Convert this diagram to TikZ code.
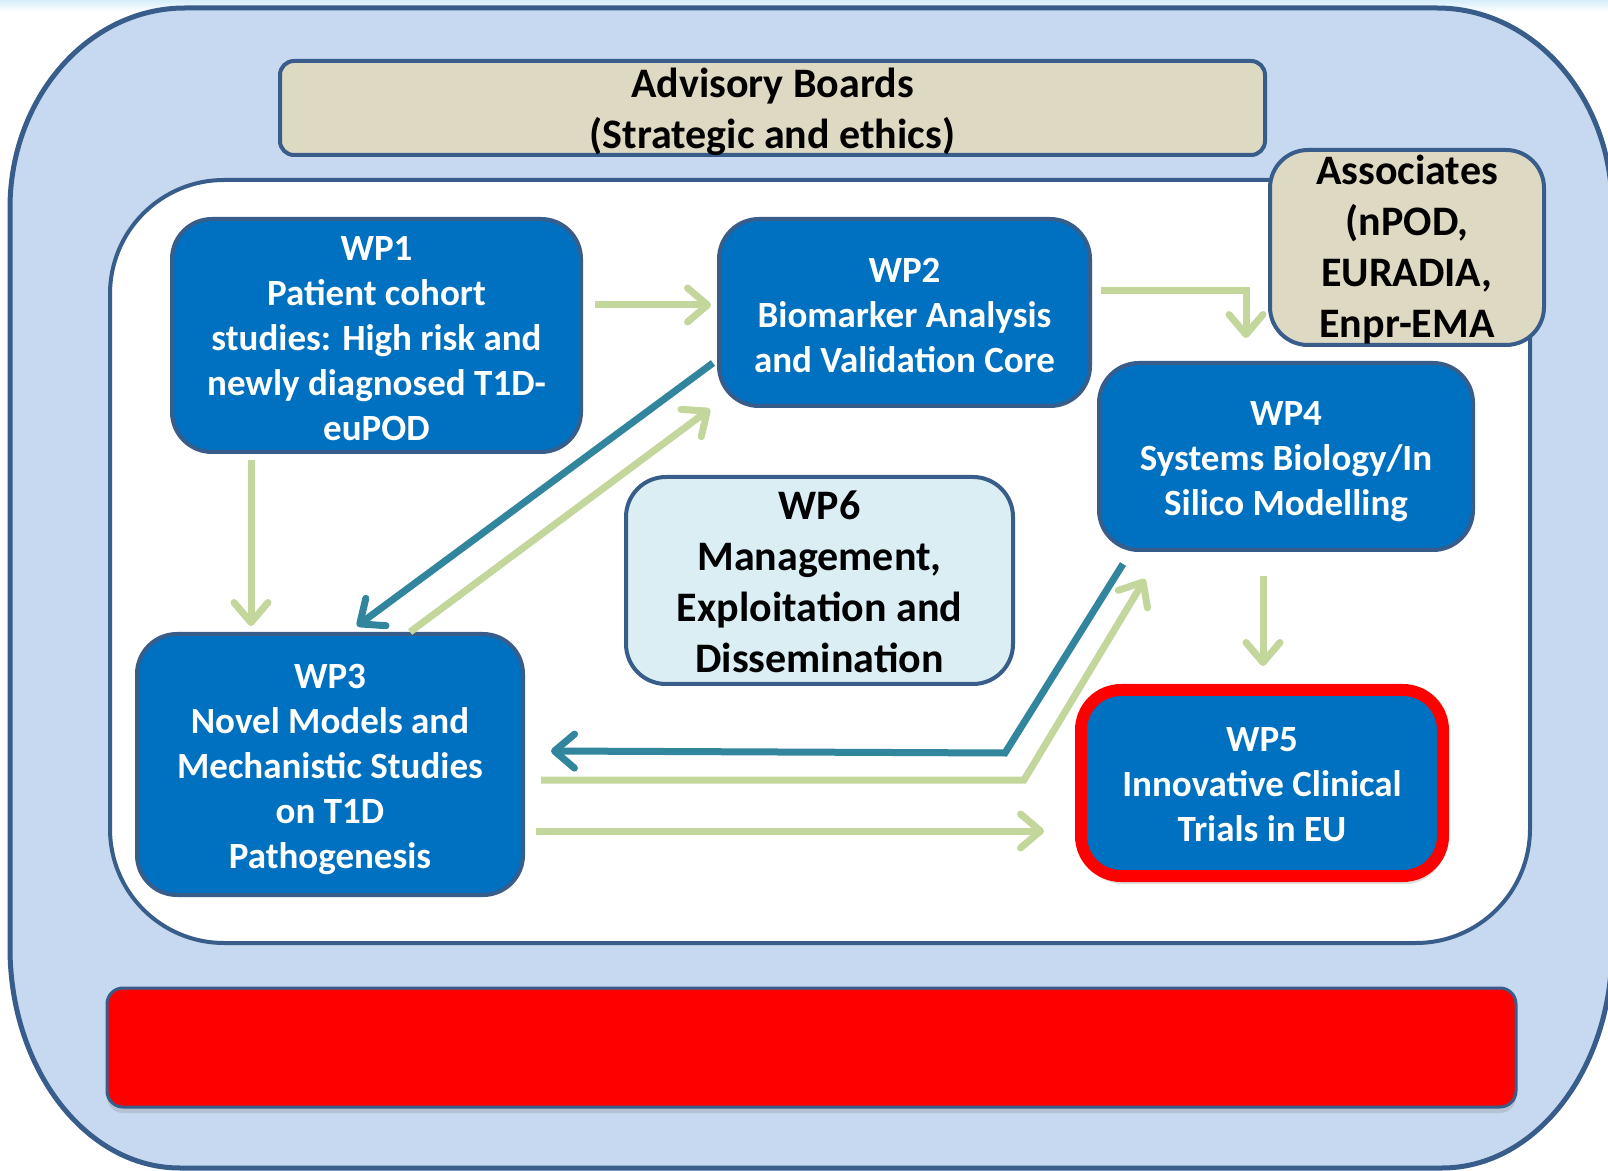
\documentclass[tikz,border=0pt]{standalone}
\usepackage{fontspec}
\setmainfont{Carlito}
\usetikzlibrary{arrows.meta, calc, shadows}

\definecolor{frameblue}{HTML}{385D8A}
\definecolor{outerfill}{HTML}{C6D9F1}
\definecolor{tan}{HTML}{DDD9C3}
\definecolor{wpblue}{HTML}{0070C0}
\definecolor{mgmtfill}{HTML}{DAEEF3}
\definecolor{arrowgreen}{HTML}{C3D69B}
\definecolor{arrowteal}{HTML}{31859C}
\definecolor{stripcyan}{HTML}{D6EEFA}

\begin{document}
\begin{tikzpicture}[x=0.5pt, y=-0.5pt]

\tikzset{wpbox/.style = {shape=rectangle, rounded corners=20pt, draw=frameblue, line width=2pt, fill=wpblue, text=white, align=center, inner sep=0pt, font=\fontsize{18.5}{22.5}\selectfont\bfseries}}
\tikzset{tanbox/.style = {shape=rectangle, draw=frameblue, line width=2pt, fill=tan, align=center, inner sep=0pt, font=\fontsize{21}{25.5}\selectfont\bfseries}}
\tikzset{greenedge/.style = {draw=arrowgreen, line width=3.5pt, -{Straight Barb[length=10pt, width=17pt, round]}}}
\tikzset{tealedge/.style = {draw=arrowteal, line width=3.5pt, -{Straight Barb[length=10pt, width=17pt, round]}}}

\useasboundingbox (0,0) rectangle (1608,1171);
\fill[white] (0,0) rectangle (1608,1171);
\fill[top color=stripcyan, bottom color=white] (0,0) rectangle (1608,12);

% frames
\draw[frameblue, line width=2.5pt, fill=outerfill] (10,208) .. controls (10,98) and (88,8) .. (185,8) -- (1437,8) .. controls (1534,8) and (1612,98) .. (1612,208) -- (1612,948) .. controls (1612,1069) and (1536,1168) .. (1442,1168) -- (180,1168) .. controls (86,1168) and (10,1069) .. (10,948) -- cycle;
\draw[frameblue, line width=2pt, fill=white, rounded corners=57pt] (110,180) rectangle (1530,943);

% boxes
\node[tanbox, rounded corners=7pt, minimum width=492.5pt, minimum height=47pt, text depth=0pt] (adv) at (772.5,108) {Advisory Boards\\(Strategic and ethics)};
\node[tanbox, rounded corners=19pt, minimum width=137pt, minimum height=97.5pt] (assoc) at (1407,247.5) {\rule{0pt}{16.5pt}Associates\\(nPOD,\\EURADIA,\\Enpr-EMA};
\node[wpbox, minimum width=204.5pt, minimum height=116.5pt] (wp1) at (376.5,335.5) {\rule{0pt}{15pt}WP1\\Patient cohort\\studies: High risk and\\newly diagnosed T1D-\\euPOD};
\node[wpbox, minimum width=185.5pt, minimum height=93.5pt] (wp2) at (904.5,312.5) {\rule{0pt}{15pt}WP2\\Biomarker Analysis\\and Validation Core};
\node[wpbox, minimum width=187pt, minimum height=93.5pt] (wp4) at (1286,456.5) {\rule{0pt}{17pt}WP4\\Systems Biology/In\\Silico Modelling};
\node[wpbox, fill=mgmtfill, text=black, font=\fontsize{21}{25.5}\selectfont\bfseries, minimum width=193.5pt, minimum height=103.5pt] (wp6) at (819.5,580.5) {\rule{0pt}{15.5pt}WP6\\Management,\\Exploitation and\\Dissemination};
\node[wpbox, minimum width=193pt, minimum height=130.5pt] (wp3) at (330,764.5) {\rule{0pt}{17pt}WP3\\Novel Models and\\Mechanistic Studies\\on T1D\\Pathogenesis};
\node[wpbox, draw=red, line width=6pt, minimum width=181pt, minimum height=93pt, drop shadow={shadow xshift=1pt, shadow yshift=-4pt, opacity=0.25}] (wp5) at (1262,783) {\rule{0pt}{14pt}WP5\\Innovative Clinical\\Trials in EU};
\node[shape=rectangle, rounded corners=8pt, draw=frameblue, line width=1.5pt, fill=red, minimum width=704.5pt, minimum height=59.5pt, inner sep=0pt, drop shadow={shadow xshift=0pt, shadow yshift=-3pt, opacity=0.25}] (bar) at (811.5,1047.5) {};

%edges
\draw[greenedge] ($(wp1.east)+(12,-30.5)$) -- ($(wp2.west)+(-6,-7.5)$);
\draw[greenedge] ($(wp2.east)+(9,-21.5)$) -| ($(wp4.north)+(-40,-23)$);
\draw[greenedge] ($(wp1.south)+(-125.5,6)$) -- ($(wp3.north)+(-79,-6)$);
\draw[tealedge] ($(wp2.west)+(-4,50.5)$) -- ($(wp3.north)+(27,-6)$);
\draw[greenedge] ($(wp3.north)+(80,0)$) -- ($(wp2.south west)+(-7,1)$);
\draw[tealedge] ($(wp4.south)+(-163,12)$) -- ++(-118,189) -- ($(wp3.east)+(26,-13.5)$);
\draw[greenedge] ($(wp3.east)+(16,15.5)$) -- ++(483,0) -- ($(wp4.south)+(-141,27)$);
\draw[greenedge] ($(wp3.east)+(11,66.5)$) -- ($(wp5.west)+(-31,48)$);
\draw[greenedge] ($(wp4.south)+(-23,24)$) -- ($(wp5.north)+(1,-18)$);

\end{tikzpicture}
\end{document}
